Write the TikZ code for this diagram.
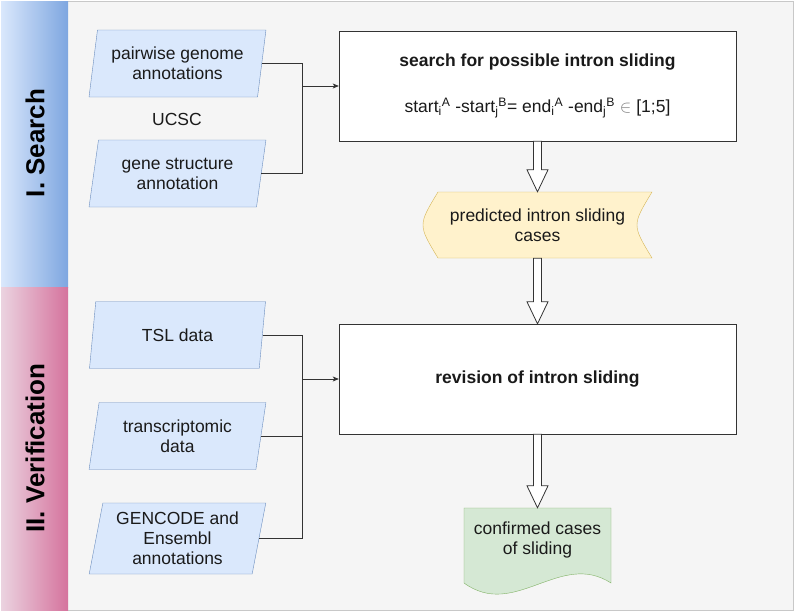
\documentclass[tikz,border=0pt]{standalone}
\usepackage{fontspec}
\setmainfont{Liberation Sans}
\usetikzlibrary{shapes.geometric}
\usetikzlibrary{positioning}
\usetikzlibrary{arrows.meta}
\definecolor{bggray}{HTML}{F5F5F5}
\definecolor{framegray}{HTML}{C8C8C8}
\definecolor{inblue}{HTML}{DAE8FC}
\definecolor{inedge}{HTML}{6C8EBF}
\definecolor{searchdark}{HTML}{7EA6E0}
\definecolor{verlight}{HTML}{EBD3E0}
\definecolor{verdark}{HTML}{D5739D}
\definecolor{predfill}{HTML}{FFF2CC}
\definecolor{prededge}{HTML}{D6B656}
\definecolor{conffill}{HTML}{D5E8D4}
\definecolor{confedge}{HTML}{82B366}
\definecolor{lineclr}{HTML}{333333}
\definecolor{txt}{HTML}{1A1A1A}
\newcommand{\blockarrow}[2]{\draw[blockarr] ([xshift=-4pt]#1.south) -- ([xshift=-4pt,yshift=22pt]#2.north) -- ([xshift=-10.5pt,yshift=22pt]#2.north) -- (#2.north) -- ([xshift=10.5pt,yshift=22pt]#2.north) -- ([xshift=4pt,yshift=22pt]#2.north) -- ([xshift=4pt]#1.south) -- cycle;}

\begin{document}
\begin{tikzpicture}[x=1pt,y=-1pt,
  every node/.style={font=\fontsize{17.5}{20}\selectfont, text=txt, align=center},
  inputbox/.style={trapezium, trapezium left angle=78, trapezium right angle=102, trapezium stretches=true, draw=inedge, fill=inblue, minimum width=177pt, minimum height=67pt, inner sep=0pt},
  procbox/.style={rectangle, draw=lineclr, fill=white, minimum width=397pt, minimum height=110pt, inner sep=0pt},
  phase/.style={rotate=90, font=\bfseries\fontsize{26}{30}\selectfont, text=black},
  link/.style={draw=lineclr, line width=0.8pt},
  arr/.style={link, -{Stealth[length=6pt,width=5pt,inset=1.5pt]}},
  blockarr/.style={draw=lineclr, fill=white, line width=0.8pt, line join=miter}]
\useasboundingbox (0,0) rectangle (796,613);
\draw[draw=framegray, fill=bggray] (1,1) rectangle (793,610);
\shade[left color=inblue, right color=searchdark] (1,1) rectangle (68,287);
\shade[left color=verlight, right color=verdark] (1,287) rectangle (68,610);
\node[phase] (searchlabel) at (35,143) {I. Search};
\node[phase] (verlabel) at (35,448) {II. Verification};

\node[inputbox] (pairwise) at (177.5,63.5) {pairwise genome\\annotations};
\node (ucsc) at (177,119) {UCSC};
\node[inputbox] (genestruct) at (177.5,173.5) {gene structure\\annotation};
\node[inputbox] (tsl) at (177.5,335) {TSL data};
\node[inputbox] (transcr) at (177.5,436) {transcriptomic\\data};
\node[inputbox, minimum height=71pt] (gencode) at (177.5,538.5) {GENCODE and\\Ensembl\\annotations};

\node[procbox] (scan) at (537.5,86) {\textbf{search for possible intron sliding}\\[26pt]
  start\textsubscript{i}\textsuperscript{A} -start\textsubscript{j}\textsuperscript{B}= end\textsubscript{i}\textsuperscript{A} -end\textsubscript{j}\textsuperscript{B} {\color{gray}$\in$} [1;5]};
\node[procbox] (revise) at (537.5,379) {\textbf{revision of intron sliding}};

\filldraw[fill=predfill, draw=prededge] (438,192) -- (652,192) .. controls (632,225) .. (652,258) -- (438,258) .. controls (418,225) .. cycle;
\node[minimum width=229pt, minimum height=66pt, inner sep=0pt] (predicted) at (537.5,225) {predicted intron sliding\\cases};
\filldraw[fill=conffill, draw=confedge] (464,508) -- (611,508) -- (611,583) .. controls (560,550) and (515,620) .. (464,583) -- cycle;
\node[minimum width=147pt, minimum height=64pt, inner sep=0pt] (confirmed) at (537.5,540) {confirmed cases\\of sliding};

\coordinate[left=36pt of scan.west] (joinsearch);
\coordinate[left=36pt of revise.west] (joinver);
\draw[link] (pairwise.east) -| (joinsearch);
\draw[link] (genestruct.east) -| (joinsearch);
\draw[arr] (joinsearch) -- (scan.west);
\draw[link] (tsl.east) -| (joinver);
\draw[link] (transcr.east) -| (joinver);
\draw[link] (gencode.east) -| (joinver);
\draw[arr] (joinver) -- (revise.west);

\blockarrow{scan}{predicted}
\blockarrow{predicted}{revise}
\blockarrow{revise}{confirmed}
\end{tikzpicture}
\end{document}
